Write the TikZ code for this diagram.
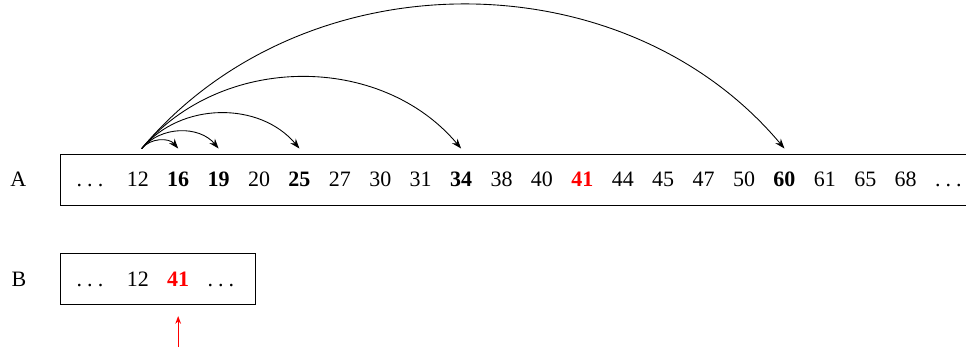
\documentclass[tikz,border=0pt]{standalone}
\usepackage{fontspec}
\setmainfont{Liberation Serif}
\usetikzlibrary{arrows.meta, positioning, fit, calc}
\newcommand{\spacedots}{.\kern2.3pt.\kern2.3pt.\kern2.3pt}
\tikzset{
  num/.style={inner sep=0pt, text height=6.8pt, text depth=0pt, font=\normalsize},
  hit/.style={num, font=\normalsize\bfseries},
  found/.style={hit, text=red},
  row/.style={draw=black, line width=0.4pt, inner xsep=7.2pt, inner ysep=8pt},
  jump/.style={-{Stealth[length=4.5pt, width=3.2pt]}, line width=0.4pt},
  probe/.style={-{Stealth[length=3.5pt, width=2.6pt]}, draw=red, line width=0.5pt},
}
\begin{document}
\begin{tikzpicture}[node distance=8pt]
  \useasboundingbox (0,0) rectangle (15.456,-5.552);
  % sorted array A
  \node[num] (a1) at (1.48,-2.872) {\spacedots};
  \foreach \v/\s [count=\i from 2, remember=\i as \last (initially 1)] in
    {12/num, 16/hit, 19/hit, 20/num, 25/hit, 27/num, 30/num, 31/num, 34/hit,
     38/num, 40/num, 41/found, 44/num, 45/num, 47/num, 50/num, 60/hit,
     61/num, 65/num, 68/num, \spacedots/num}
    \node[\s, right=of a\last] (a\i) {\v};
  \node[row, fit=(a1)(a22)] (boxA) {};
  \node[num, left=15.2pt of boxA] (labA) {A};
  % array B
  \node[num] (b1) at ($(a1)+(0,-1.595)$) {\spacedots};
  \node[num, right=of b1] (b2) {12};
  \node[found, right=of b2] (b3) {41};
  \node[num, right=of b3] (b4) {\spacedots};
  \node[row, fit=(b1)(b4)] (boxB) {};
  \node[num, left=15.2pt of boxB] (labB) {B};
  % jumps from 12
  \coordinate (src) at ($(a2 |- boxA.north)+(1.8pt,2.3pt)$);
  \foreach \k in {3,4,6,10,18}
    \draw[jump] (src) to[bend left=50] ($(a\k |- boxA.north)+(0,2.3pt)$);
  \coordinate (tail) at (b3 |- 0,-5.552);
  \draw[probe] (tail) -- ($(b3 |- boxB.south)+(0,-5pt)$);
\end{tikzpicture}
\end{document}
